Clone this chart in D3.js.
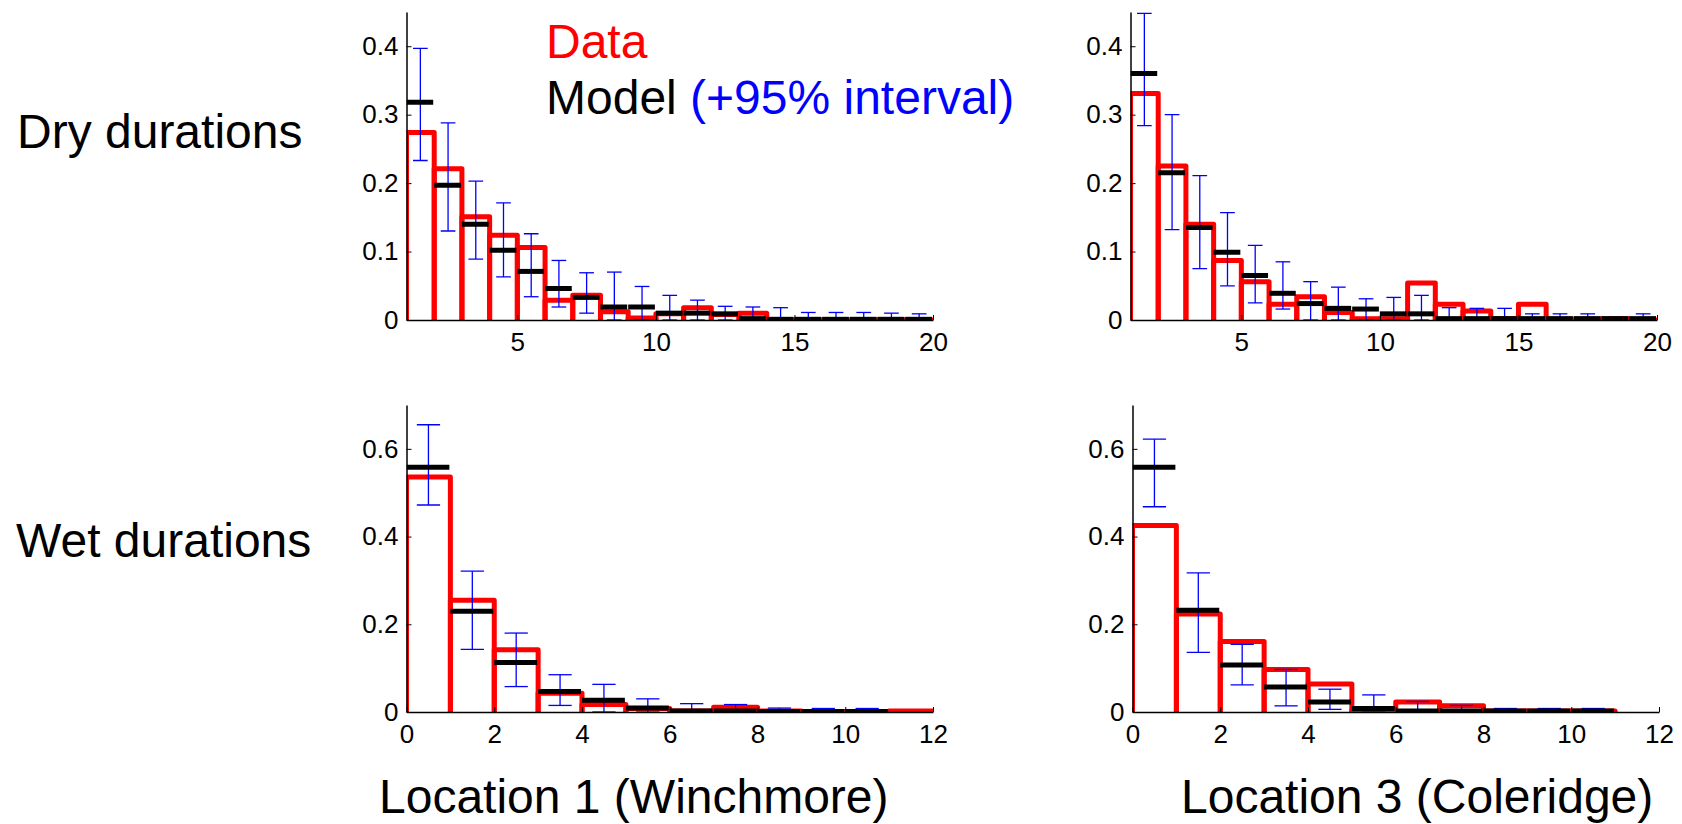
<!DOCTYPE html>
<html>
<head>
<meta charset="utf-8">
<script src="https://cdn.jsdelivr.net/npm/d3@7"></script>
<style>
  body { margin: 0; background: #fff; }
  svg { display: block; font-family: "Liberation Sans", Arial, Helvetica, sans-serif; }
</style>
</head>
<body>
<svg id="chart" width="1682" height="824"></svg>
<script>
// ---------- Data ----------
const dryBinStarts = [1,2,3,4,5,6,7,8,9,10,11,12,13,14,15,16,17,18,19];
const wetBinStarts = [0,1,2,3,4,5,6,7,8,9,10,11];

const dryXTicks = [5, 10, 15, 20];
const dryYTicks = [0, 0.1, 0.2, 0.3, 0.4];
const wetXTicks = [0, 2, 4, 6, 8, 10, 12];
const wetYTicks = [0, 0.2, 0.4, 0.6];

// Location 1 (Winchmore), dry durations
const win_dry_data  = [0.274, 0.221, 0.151, 0.124, 0.106, 0.029, 0.036, 0.012, 0.003, 0.009, 0.018, 0.008, 0.010, 0, 0, 0, 0, 0, 0];
const win_dry_model = [0.318, 0.197, 0.140, 0.102, 0.071, 0.046, 0.033, 0.019, 0.019, 0.010, 0.010, 0.009, 0.002, 0.001, 0.001, 0.001, 0.001, 0.001, 0.001];
const win_dry_lo    = [0.233, 0.130, 0.089, 0.063, 0.034, 0.019, 0.010, 0, 0, 0, 0, 0, 0, 0, 0, 0, 0, 0, 0];
const win_dry_hi    = [0.397, 0.288, 0.203, 0.171, 0.126, 0.087, 0.069, 0.070, 0.049, 0.036, 0.029, 0.020, 0.019, 0.018, 0.011, 0.011, 0.011, 0.010, 0.009];

// Location 3 (Coleridge), dry durations
const col_dry_data  = [0.331, 0.225, 0.140, 0.087, 0.056, 0.023, 0.034, 0.011, 0.002, 0.002, 0.054, 0.023, 0.013, 0.002, 0.023, 0.001, 0.001, 0.002, 0];
const col_dry_model = [0.360, 0.215, 0.135, 0.099, 0.065, 0.039, 0.024, 0.017, 0.016, 0.009, 0.009, 0.002, 0.002, 0.002, 0.002, 0.002, 0.002, 0.002, 0.002];
const col_dry_lo    = [0.284, 0.132, 0.075, 0.050, 0.025, 0.016, 0, 0, 0, 0, 0, 0, 0, 0, 0, 0, 0, 0, 0];
const col_dry_hi    = [0.448, 0.300, 0.211, 0.157, 0.109, 0.085, 0.056, 0.048, 0.031, 0.033, 0.036, 0.018, 0.017, 0.017, 0.009, 0.009, 0.009, 0, 0.009];

// Location 1 (Winchmore), wet durations
const win_wet_data  = [0.536, 0.255, 0.142, 0.043, 0.017, 0.008, 0.002, 0.011, 0.002, 0.001, 0.001, 0.002];
const win_wet_model = [0.558, 0.230, 0.113, 0.047, 0.027, 0.009, 0.002, 0.002, 0.001, 0.001, 0.001];
const win_wet_lo    = [0.472, 0.143, 0.058, 0.015, 0, 0, 0, 0, 0, 0, 0];
const win_wet_hi    = [0.655, 0.321, 0.180, 0.085, 0.063, 0.030, 0.019, 0.017, 0.009, 0.008, 0.008];

// Location 3 (Coleridge), wet durations
const col_wet_data  = [0.425, 0.2235, 0.161, 0.097, 0.064, 0.005, 0.023, 0.014, 0.002, 0.002, 0.002];
const col_wet_model = [0.558, 0.232, 0.107, 0.057, 0.023, 0.008, 0.002, 0.002, 0.002, 0.002, 0.002];
const col_wet_lo    = [0.468, 0.136, 0.062, 0.014, 0.006, 0, 0, 0, 0, 0, 0];
const col_wet_hi    = [0.622, 0.317, 0.154, 0.097, 0.052, 0.039, 0.024, 0.015, 0.008, 0.008, 0.008];

const rowLabels = ["Dry durations", "Wet durations"];
const colLabels = ["Location 1 (Winchmore)", "Location 3 (Coleridge)"];
const legendData = "Data";
const legendModel = "Model ";
const legendInterval = "(+95% interval)";

// ---------- Drawing ----------
const svg = d3.select("#chart");
const RED = "#ff0000", BLUE = "#0000ff", BLACK = "#000000";

const panels = [
  { id: "p1", left: 406.5, right: 933, top: 12, base: 320, xd: [1, 20], yd: [0, 0.45], xt: dryXTicks, yt: dryYTicks, starts: dryBinStarts,
    data: win_dry_data, model: win_dry_model, lo: win_dry_lo, hi: win_dry_hi },
  { id: "p2", left: 1130.5, right: 1657, top: 12, base: 320, xd: [1, 20], yd: [0, 0.45], xt: dryXTicks, yt: dryYTicks, starts: dryBinStarts,
    data: col_dry_data, model: col_dry_model, lo: col_dry_lo, hi: col_dry_hi },
  { id: "p3", left: 406.5, right: 933, top: 405, base: 712, xd: [0, 12], yd: [0, 0.7], xt: wetXTicks, yt: wetYTicks, starts: wetBinStarts,
    data: win_wet_data, model: win_wet_model, lo: win_wet_lo, hi: win_wet_hi },
  { id: "p4", left: 1132.5, right: 1659, top: 405, base: 712, xd: [0, 12], yd: [0, 0.7], xt: wetXTicks, yt: wetYTicks, starts: wetBinStarts,
    data: col_wet_data, model: col_wet_model, lo: col_wet_lo, hi: col_wet_hi }
];

const defs = svg.append("defs");

panels.forEach(p => {
  const w = p.right - p.left, h = p.base - p.top;
  const x = d3.scaleLinear().domain(p.xd).range([0, w]);
  const y = d3.scaleLinear().domain(p.yd).range([h, 0]);
  const g = svg.append("g").attr("transform", `translate(${p.left},${p.top})`);

  defs.append("clipPath").attr("id", "clip-" + p.id)
    .append("rect").attr("x", 0).attr("y", -10).attr("width", w).attr("height", h + 10);

  const plot = g.append("g").attr("clip-path", `url(#clip-${p.id})`);

  // Data histogram (red outlined bars)
  plot.append("g").selectAll("rect")
    .data(p.data.map((v, i) => ({ s: p.starts[i], v })))
    .join("rect")
    .attr("x", d => x(d.s))
    .attr("width", d => x(d.s + 1) - x(d.s))
    .attr("y", d => y(d.v))
    .attr("height", d => y(0) - y(d.v) + 6)
    .attr("fill", "none")
    .attr("stroke", RED)
    .attr("stroke-width", 5)
    .attr("stroke-linejoin", "round");

  // Error bars (blue)
  const eb = p.hi.map((v, i) => ({ s: p.starts[i], hi: v, lo: p.lo[i] }));
  const bw = x(p.starts[1]) - x(p.starts[0]);
  const capHalf = bw * 0.265;
  const ebG = plot.append("g").attr("stroke", BLUE).attr("stroke-width", 1.3);
  eb.forEach(d => {
    if (d.hi <= 0) return;
    const cx = x(d.s + 0.5);
    ebG.append("line").attr("x1", cx).attr("x2", cx).attr("y1", y(d.lo)).attr("y2", y(d.hi));
    ebG.append("line").attr("x1", cx - capHalf).attr("x2", cx + capHalf).attr("y1", y(d.hi)).attr("y2", y(d.hi));
    ebG.append("line").attr("x1", cx - capHalf).attr("x2", cx + capHalf).attr("y1", y(d.lo)).attr("y2", y(d.lo));
  });

  // Model (black horizontal dashes)
  plot.append("g").selectAll("line")
    .data(p.model.map((v, i) => ({ s: p.starts[i], v })))
    .join("line")
    .attr("x1", d => x(d.s))
    .attr("x2", d => x(d.s + 1) - 1)
    .attr("y1", d => y(d.v))
    .attr("y2", d => y(d.v))
    .attr("stroke", BLACK)
    .attr("stroke-width", 5);

  // Axes
  const xAxis = d3.axisBottom(x).tickValues(p.xt).tickSizeInner(-5).tickSizeOuter(0).tickPadding(13).tickFormat(d3.format("d"));
  const yAxis = d3.axisLeft(y).tickValues(p.yt).tickSizeInner(-5).tickSizeOuter(0).tickPadding(8)
    .tickFormat(d => d === 0 ? "0" : d3.format(".1f")(d));

  const gx = g.append("g").attr("transform", `translate(0,${h})`).call(xAxis);
  const gy = g.append("g").call(yAxis);
  [gx, gy].forEach(a => {
    a.select(".domain").attr("stroke", BLACK).attr("stroke-width", 1.5);
    a.selectAll(".tick line").attr("stroke", BLACK).attr("stroke-width", 1);
    a.selectAll(".tick text").attr("font-size", 26).attr("fill", BLACK)
      .attr("font-family", "'Liberation Sans', Arial, Helvetica, sans-serif");
  });
  gx.selectAll(".tick text").attr("dy", "0.71em");
});

// Row labels
svg.append("text").attr("x", 17).attr("y", 148).attr("font-size", 48).attr("fill", BLACK).text(rowLabels[0]);
svg.append("text").attr("x", 16).attr("y", 557).attr("font-size", 48).attr("fill", BLACK).text(rowLabels[1]);

// Column labels
svg.append("text").attr("x", 379).attr("y", 813).attr("font-size", 48).attr("fill", BLACK).text(colLabels[0]);
svg.append("text").attr("x", 1181).attr("y", 813).attr("font-size", 48).attr("fill", BLACK).text(colLabels[1]);

// Legend
svg.append("text").attr("x", 546).attr("y", 58).attr("font-size", 48).attr("fill", RED).text(legendData);
const lm = svg.append("text").attr("x", 546).attr("y", 114).attr("font-size", 48).attr("fill", BLACK);
lm.append("tspan").text(legendModel);
lm.append("tspan").attr("fill", BLUE).text(legendInterval);
</script>
</body>
</html>
